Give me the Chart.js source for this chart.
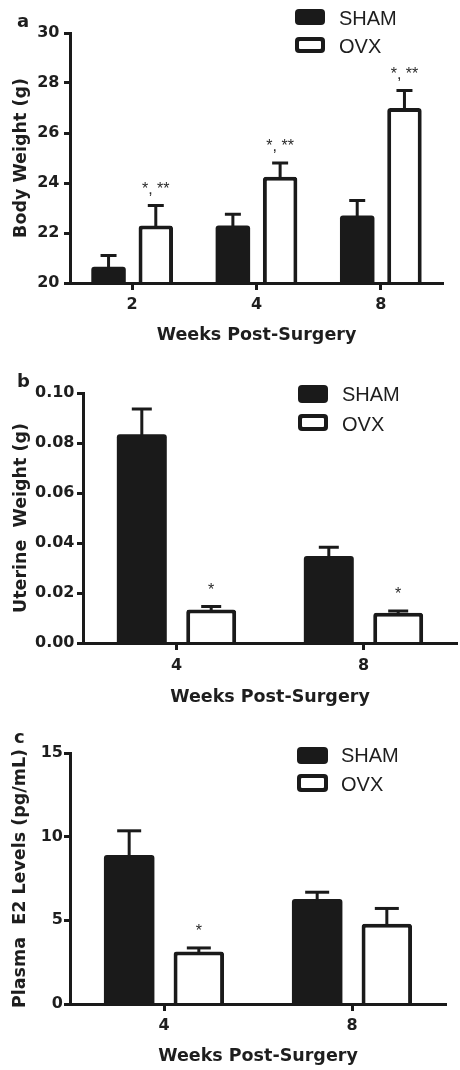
<!DOCTYPE html>
<html><head><meta charset="utf-8">
<script src="https://cdn.jsdelivr.net/npm/chart.js@4.4.1/dist/chart.umd.min.js"></script>
<style>
html,body{margin:0;padding:0;background:#fff;}
body{width:460px;height:1070px;position:relative;overflow:hidden;}
canvas{position:absolute;left:0;}
</style></head><body>
<canvas id="ca" width="460" height="360" style="top:0;width:460px;height:360px"></canvas>
<canvas id="cb" width="460" height="358" style="top:360px;width:460px;height:358px"></canvas>
<canvas id="cc" width="460" height="352" style="top:718px;width:460px;height:352px"></canvas>
<script>
// ---------- data ----------
const groupLabels = ['SHAM', 'OVX'];
const xTitle = 'Weeks Post-Surgery';

// panel a: body weight
const weeksA = ['2', '4', '8'];
const shamBodyWeight = [20.65, 22.3, 22.7];
const shamBodyWeightSem = [0.45, 0.45, 0.6];
const ovxBodyWeight = [22.3, 24.25, 27.0];
const ovxBodyWeightSem = [0.8, 0.55, 0.7];
const sigBodyWeight = ['*, **', '*, **', '*, **'];
const bodyWeightTicks = [20, 22, 24, 26, 28, 30];

// panel b: uterine weight
const weeksB = ['4', '8'];
const shamUterine = [0.0835, 0.0348];
const shamUterineSem = [0.0101, 0.0035];
const ovxUterine = [0.0134, 0.0121];
const ovxUterineSem = [0.0012, 0.0007];
const sigUterine = ['*', '*'];
const uterineTicks = [0, 0.02, 0.04, 0.06, 0.08, 0.10];

// panel c: plasma E2
const weeksC = ['4', '8'];
const shamE2 = [8.9, 6.28];
const shamE2Sem = [1.45, 0.4];
const ovxE2 = [3.13, 4.79];
const ovxE2Sem = [0.22, 0.92];
const sigE2 = ['*', ''];
const e2Ticks = [0, 5, 10, 15];

// ---------- drawing ----------
const INK = '#1a1a1a';
const TXT = '#1e1e1e';
const BOLD = '"DejaVu Sans", sans-serif';

function rr(ctx, x, y, w, h, r) {
  ctx.beginPath();
  ctx.moveTo(x + r, y);
  ctx.lineTo(x + w - r, y); ctx.arcTo(x + w, y, x + w, y + r, r);
  ctx.lineTo(x + w, y + h - r); ctx.arcTo(x + w, y + h, x + w - r, y + h, r);
  ctx.lineTo(x + r, y + h); ctx.arcTo(x, y + h, x, y + h - r, r);
  ctx.lineTo(x, y + r); ctx.arcTo(x, y, x + r, y, r);
  ctx.closePath();
}

function makeChart(id, cfg) {
  const plugin = {
    id: 'extras',
    afterDatasetsDraw(chart) {
      const ctx = chart.ctx, ys = chart.scales.y;
      ctx.save();
      [cfg.shamSem, cfg.ovxSem].forEach((sems, di) => {
        const meta = chart.getDatasetMeta(di);
        const vals = chart.data.datasets[di].data;
        meta.data.forEach((bar, i) => {
          const base = ys.getPixelForValue(vals[i]);
          const top = ys.getPixelForValue(vals[i] + sems[i]);
          ctx.strokeStyle = INK; ctx.lineWidth = 3; ctx.lineCap = 'butt';
          ctx.beginPath(); ctx.moveTo(bar.x, base + 2); ctx.lineTo(bar.x, top); ctx.stroke();
          ctx.beginPath(); ctx.moveTo(bar.x - cfg.capW / 2, top); ctx.lineTo(bar.x + cfg.capW / 2, top); ctx.stroke();
          if (di === 1 && cfg.sig[i]) {
            ctx.fillStyle = '#2a2a2a';
            ctx.font = '16px "Liberation Sans", Arial, sans-serif';
            ctx.textAlign = 'center'; ctx.textBaseline = 'alphabetic';
            ctx.fillText(cfg.sig[i], bar.x, top - 12);
          }
        });
      });
      ctx.restore();
    },
    afterDraw(chart) {
      const ctx = chart.ctx, L = cfg.legend;
      ctx.save();
      chart.data.datasets.forEach((ds, i) => {
        const [y0, y1] = L.boxes[i];
        rr(ctx, L.x, y0, L.w, y1 - y0, 4);
        ctx.fillStyle = INK; ctx.fill();
        if (ds.backgroundColor !== INK) {
          rr(ctx, L.x + 4, y0 + 4, L.w - 8, y1 - y0 - 8, 1);
          ctx.fillStyle = ds.backgroundColor; ctx.fill();
        }
        ctx.fillStyle = TXT;
        ctx.font = '20px "Liberation Sans", Arial, sans-serif';
        ctx.textAlign = 'left'; ctx.textBaseline = 'alphabetic';
        ctx.fillText(ds.label, L.textX, L.base[i]);
      });
      ctx.fillStyle = TXT;
      ctx.font = 'bold 18px ' + BOLD;
      ctx.textAlign = 'left'; ctx.textBaseline = 'alphabetic';
      ctx.fillText(cfg.panel[0], cfg.panel[1], cfg.panel[2]);
      ctx.restore();
    }
  };

  return new Chart(document.getElementById(id), {
    type: 'bar',
    data: {
      labels: cfg.labels,
      datasets: [
        { label: groupLabels[0], data: cfg.sham, backgroundColor: INK, borderColor: INK,
          borderWidth: 0, borderRadius: 3, borderSkipped: 'start',
          categoryPercentage: cfg.catPct, barPercentage: cfg.barPct },
        { label: groupLabels[1], data: cfg.ovx, backgroundColor: '#ffffff', borderColor: INK,
          borderWidth: 4, borderRadius: 3, borderSkipped: 'start',
          categoryPercentage: cfg.catPct, barPercentage: cfg.barPct }
      ]
    },
    options: {
      responsive: false, animation: false, devicePixelRatio: 1,
      layout: { padding: { top: cfg.padTop, right: cfg.padRight, left: 0, bottom: 0 } },
      plugins: { legend: { display: false }, tooltip: { enabled: false } },
      scales: {
        x: {
          grid: { offset: false, drawOnChartArea: false, drawTicks: true, tickLength: 7, tickWidth: 3, tickColor: INK, z: 1 },
          border: { display: true, color: INK, width: 3, z: 1 },
          ticks: { color: TXT, font: { family: BOLD, weight: 'bold', size: 16 }, padding: cfg.xPad, maxRotation: 0 },
          title: { display: true, text: xTitle, color: TXT,
                   font: { family: BOLD, weight: 'bold', size: 17.5 },
                   padding: { top: 0, bottom: cfg.xTitlePad } },
          afterFit: s => { s.height = cfg.xHeight; }
        },
        y: {
          min: cfg.ticks[0], max: cfg.ticks[cfg.ticks.length - 1],
          afterBuildTicks: s => { s.ticks = cfg.ticks.map(v => ({ value: v })); },
          grid: { drawOnChartArea: false, drawTicks: true, tickLength: 6, tickWidth: 3, tickColor: INK, z: 1 },
          border: { display: true, color: INK, width: 3, z: 1 },
          ticks: { color: TXT, font: { family: BOLD, weight: 'bold', size: 16 }, padding: cfg.yPad,
                   callback: v => cfg.fmt(v) },
          title: { display: true, text: cfg.yTitle, color: TXT,
                   font: { family: BOLD, weight: 'bold', size: 17.5 },
                   padding: { top: cfg.yTitlePad, bottom: 0 } },
          afterFit: s => { s.width = cfg.yWidth; }
        }
      }
    },
    plugins: [plugin]
  });
}

makeChart('ca', {
  labels: weeksA, sham: shamBodyWeight, shamSem: shamBodyWeightSem,
  ovx: ovxBodyWeight, ovxSem: ovxBodyWeightSem, sig: sigBodyWeight,
  ticks: bodyWeightTicks, fmt: v => String(v), yTitle: 'Body Weight (g)',
  padTop: 33, padRight: 17, xHeight: 77, yWidth: 70, xPad: 5, xTitlePad: 14.5,
  yTitlePad: 10.5, yPad: 4.5, catPct: 0.76, barPct: 0.73, capW: 16,
  legend: { x: 295, w: 30, boxes: [[9, 25], [37, 53]], textX: 339, base: [25, 53] },
  panel: ['a', 17, 27]
});

makeChart('cb', {
  labels: weeksB, sham: shamUterine, shamSem: shamUterineSem,
  ovx: ovxUterine, ovxSem: ovxUterineSem, sig: sigUterine,
  ticks: uterineTicks, fmt: v => v.toFixed(2), yTitle: 'Uterine  Weight (g)',
  padTop: 33, padRight: 3, xHeight: 75, yWidth: 83, xPad: 6.4, xTitlePad: 10.5,
  yTitlePad: 10.5, yPad: 2.5, catPct: 0.742, barPct: 0.72, capW: 20,
  legend: { x: 298, w: 30, boxes: [[25, 43], [54, 71]], textX: 342, base: [40.7, 70.5] },
  panel: ['b', 17, 27]
});

makeChart('cc', {
  labels: weeksC, sham: shamE2, shamSem: shamE2Sem,
  ovx: ovxE2, ovxSem: ovxE2Sem, sig: sigE2,
  ticks: e2Ticks, fmt: v => String(v), yTitle: 'Plasma  E2 Levels (pg/mL)',
  padTop: 35, padRight: 14, xHeight: 66, yWidth: 70, xPad: 5.4, xTitlePad: 3,
  yTitlePad: 10, yPad: 1, catPct: 0.741, barPct: 0.725, capW: 24,
  legend: { x: 297, w: 31, boxes: [[29, 46], [56, 74]], textX: 341, base: [43.7, 73] },
  panel: ['c', 14, 25]
});
</script>
</body></html>
